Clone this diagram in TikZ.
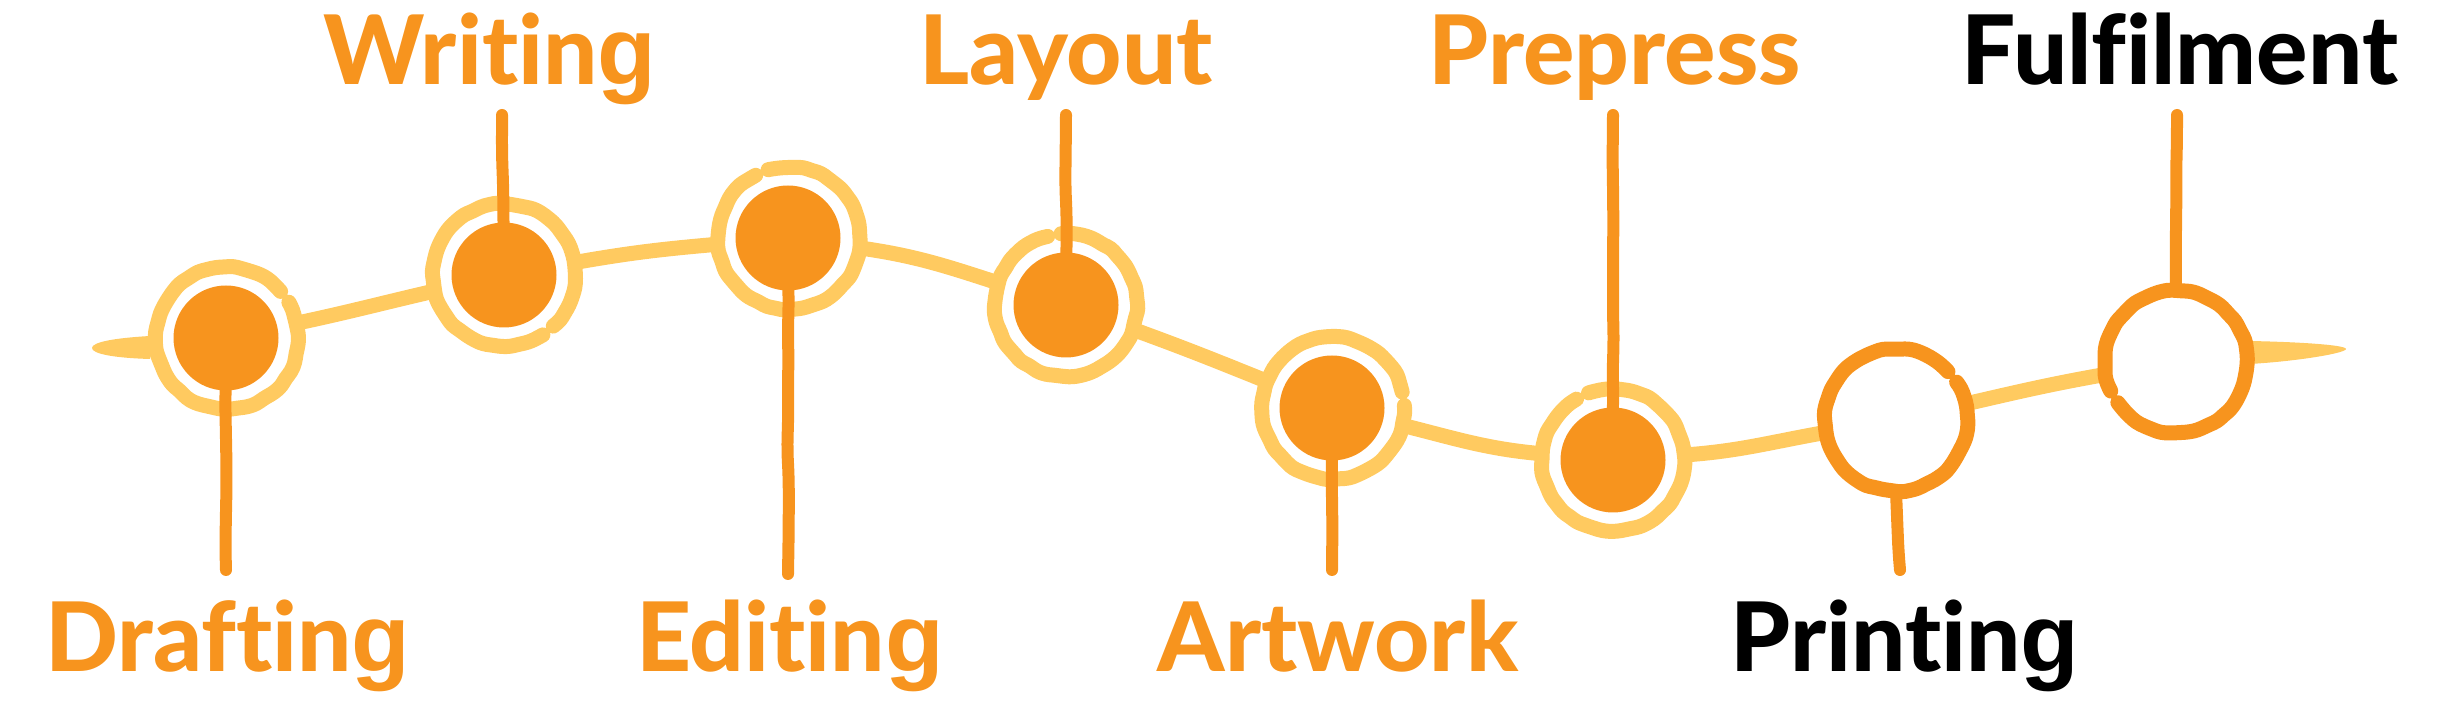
\documentclass[tikz,border=0pt]{standalone}
\usepackage{fontspec}
\IfFontExistsTF{Lato Heavy}{%
  \setmainfont{Lato}[Ligatures={NoCommon}, BoldFont={Lato Heavy}]}{%
  \IfFontExistsTF{Lato Black}{%
    \setmainfont{Lato}[Ligatures={NoCommon}, BoldFont={Lato Black}]}{%
    \setmainfont{Lato}[Ligatures={NoCommon}]}}
\newfontfamily\gfont{Liberation Sans}
\newcommand{\sg}{{\gfont g}}
\usetikzlibrary{decorations.pathmorphing}
\definecolor{orng}{HTML}{F7941E}
\definecolor{lite}{HTML}{FFCA60}
\begin{document}
\begin{tikzpicture}[x=1pt,y=1pt,
  hub/.style={circle, minimum size=142pt, inner sep=0pt, draw=none},
  dot/.style={circle, minimum size=105pt, inner sep=0pt, fill=orng},
  base/.style={draw=lite, line width=15pt},
  wob/.style={decorate, decoration={random steps, segment length=9pt, amplitude=0.9pt}, rounded corners=4pt},
  lring/.style={draw=lite, line width=15pt, line cap=round, line join=round, wob},
  oring/.style={draw=orng, line width=15pt, line cap=round, line join=round, wob},
  stem/.style={draw=orng, line width=12pt, line cap=round, line join=round,
    decorate, decoration={random steps, segment length=30pt, amplitude=0.8pt}, rounded corners=12pt},
  lbl/.style={font=\fontsize{96}{96}\selectfont\bfseries, anchor=base, inner sep=0pt, text=orng},
  blbl/.style={lbl, text=black}]
\pgfmathsetseed{7}
\useasboundingbox (0,0) rectangle (2449,708);
% hubs
\node[hub] (r1) at (227,370) {};
\node[hub] (r2) at (504,433) {};
\node[hub] (r3) at (789,470) {};
\node[hub] (r4) at (1066,403) {};
\node[hub] (r5) at (1333,300) {};
\node[hub] (r6) at (1613,248) {};
\node[hub] (r7) at (1896,288) {};
\node[hub] (r8) at (2176,346) {};
% baseline
\draw[base] (r1) to[out=12,in=193] (r2);
\draw[base] (r2) to[out=10,in=185] (r3);
\draw[base] (r3) to[out=-8,in=162] (r4);
\draw[base] (r4) to[out=-20,in=158] (r5);
\draw[base] (r5) to[out=-14,in=175] (r6);
\draw[base] (r6) to[out=4,in=190] (r7);
\draw[base] (r7) to[out=13,in=190] (r8);
% tails
\coordinate (tl) at (92,360);
\coordinate (tr) at (2346,359);
\fill[lite] (150,372) .. controls (115,370) and (92,366) .. (tl) .. controls (92,354) and (115,350) .. (150,349) -- cycle;
\fill[lite] (2250,367) .. controls (2300,366) and (2346,363) .. (tr) .. controls (2346,355) and (2300,347) .. (2250,344) -- cycle;
% rings
\draw[lring] (r1.center) ++(41:71) arc[start angle=41, delta angle=349, radius=71];
\draw[lring] (r2.center) ++(-46:71) arc[start angle=-46, delta angle=349, radius=71];
\draw[lring] (r3.center) ++(118:71) arc[start angle=118, delta angle=349, radius=71];
\draw[lring] (r4.center) ++(105:71) arc[start angle=105, delta angle=349, radius=71];
\draw[lring] (r5.center) ++(13:71) arc[start angle=13, delta angle=349, radius=71];
\draw[lring] (r6.center) ++(121:71) arc[start angle=121, delta angle=349, radius=71];
\draw[oring] (r7.center) ++(43:71) arc[start angle=43, delta angle=349, radius=71];
\draw[oring] (r8.center) ++(215:71) arc[start angle=215, delta angle=349, radius=71];
% dots
\node[dot] (d1) at (226,370) {};
\node[dot] (d2) at (504,433) {};
\node[dot] (d3) at (788,470) {};
\node[dot] (d4) at (1066,403) {};
\node[dot] (d5) at (1332,300) {};
\node[dot] (d6) at (1613,248) {};
% stems
\coordinate (e1) at (226,138);
\coordinate (e2) at (502,593);
\coordinate (e3) at (788,134);
\coordinate (e4) at (1066,593);
\coordinate (e5) at (1332,138);
\coordinate (e6) at (1613,593);
\coordinate (e7) at (1900,138);
\coordinate (e8) at (2177,593);
\draw[stem] (d1.center) -- (e1);
\draw[stem] (d2.center) -- (e2);
\draw[stem] (d3.center) -- (e3);
\draw[stem] (d4.center) -- (e4);
\draw[stem] (d5.center) -- (e5);
\draw[stem] (d6.center) -- (e6);
\draw[stem] (r7.south) -- (e7);
\draw[stem] (r8.north) -- (e8);
% labels
\node[lbl] (l1) at (228,36) {Draftin\sg};
\node[lbl] (l2) at (490,623) {Writin\sg};
\node[lbl] (l3) at (790,36) {Editin\sg};
\node[lbl] (l4) at (1066,623) {Layout};
\node[lbl] (l5) at (1338,36) {Artwork};
\node[lbl] (l6) at (1615,623) {Prepress};
\node[blbl] (l7) at (1905,36) {Printin\sg};
\node[blbl] (l8) at (2180,623) {Fulfilment};
\end{tikzpicture}
\end{document}
